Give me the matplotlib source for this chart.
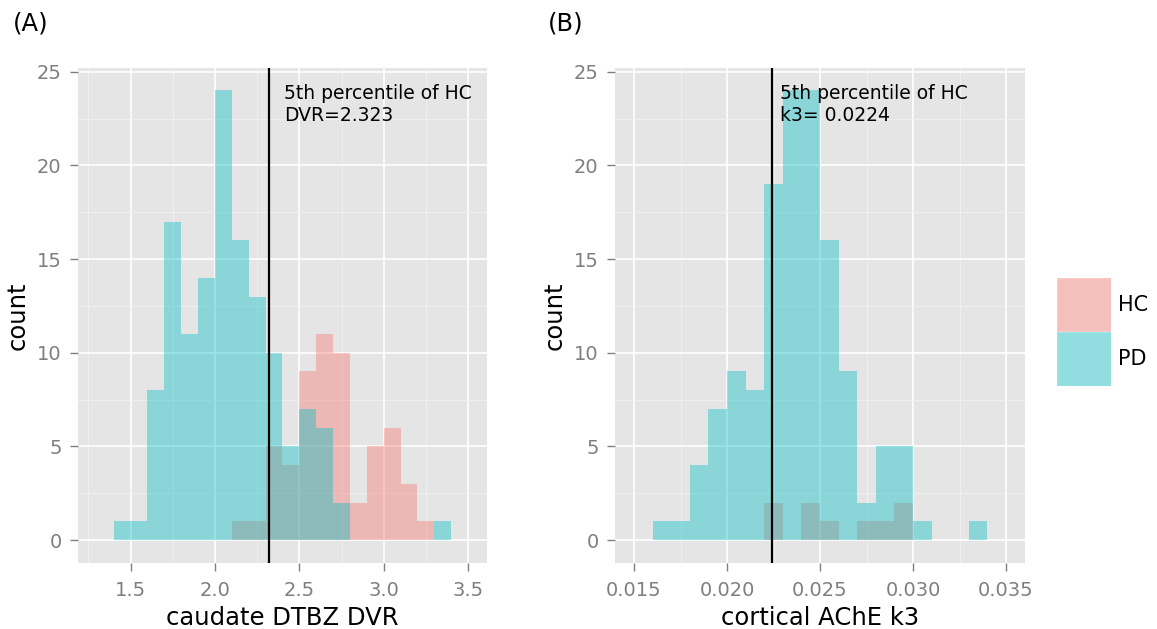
import numpy as np
import matplotlib
matplotlib.use("Agg")
import matplotlib.pyplot as plt
from matplotlib.patches import Rectangle

plt.rcParams['font.family'] = ['DejaVu Sans']

# Panel A: caudate DTBZ DVR histogram, bins of 0.1 starting at 1.4
dvr_start = 1.4
dvr_width = 0.1
dvr_hc = [0, 0, 0, 0, 0, 0, 0, 1, 1, 5, 4, 9, 11, 10, 2, 5, 6, 3, 1, 0]
dvr_pd = [1, 1, 8, 17, 11, 14, 24, 16, 13, 10, 5, 7, 6, 2, 0, 0, 0, 0, 0, 1]
dvr_cut = 2.323
dvr_ticks = [1.5, 2.0, 2.5, 3.0, 3.5]
dvr_ticklabels = ['1.5', '2.0', '2.5', '3.0', '3.5']
dvr_minor = [1.25, 1.75, 2.25, 2.75, 3.25]

# Panel B: cortical AChE k3 histogram, bins of 0.001 starting at 0.016
k3_start = 0.016
k3_width = 0.001
k3_hc = [0, 0, 0, 0, 0, 0, 2, 0, 2, 1, 0, 1, 1, 2, 0, 0, 0, 0]
k3_pd = [1, 1, 4, 7, 9, 8, 19, 24, 24, 16, 9, 2, 5, 5, 1, 0, 0, 1]
k3_cut = 0.0224
k3_ticks = [0.015, 0.020, 0.025, 0.030, 0.035]
k3_ticklabels = ['0.015', '0.020', '0.025', '0.030', '0.035']
k3_minor = [0.0175, 0.0225, 0.0275, 0.0325]

count_ticks = [0, 5, 10, 15, 20, 25]
count_minor = [2.5, 7.5, 12.5, 17.5, 22.5]

groups = ['HC', 'PD']
group_colors = ['#F8766D', '#00BFC4']
fill_alpha = 0.4

W, H = 1157, 629
fig = plt.figure(figsize=(W / 100, H / 100), dpi=100)
fig.patch.set_facecolor('white')

bottom = 1 - 562.5 / H
height = 494.5 / H
axA = fig.add_axes([78.3 / W, bottom, 408.3 / W, height])
axB = fig.add_axes([615.4 / W, bottom, 409.2 / W, height])


def style_panel(ax, xlim, xticks, xticklabels, xminor, xlabel):
    ax.set_facecolor('#E5E5E5')
    for s in ax.spines.values():
        s.set_visible(False)
    ax.set_xlim(*xlim)
    ax.set_ylim(-1.2, 25.2)
    ax.set_xticks(xticks)
    ax.set_xticklabels(xticklabels)
    ax.set_xticks(xminor, minor=True)
    ax.set_yticks(count_ticks)
    ax.set_yticklabels([str(v) for v in count_ticks])
    ax.set_yticks(count_minor, minor=True)
    ax.grid(which='major', color='white', linewidth=1.2)
    ax.grid(which='minor', color='#F2F2F2', linewidth=0.6)
    ax.set_axisbelow(True)
    ax.tick_params(which='major', length=6, width=1.0, color='#7F7F7F',
                   labelcolor='#7F7F7F', labelsize=14)
    ax.tick_params(axis='x', which='major', pad=7)
    ax.tick_params(axis='y', which='major', pad=6)
    ax.tick_params(which='minor', length=0)
    ax.set_xlabel(xlabel, fontsize=17.5, color='black', labelpad=4.5)
    ax.set_ylabel('count', fontsize=17.5, color='black', labelpad=5)


def draw_hist(ax, start, width, hc, pd_counts):
    edges_hc = start + width * np.arange(len(hc))
    edges_pd = start + width * np.arange(len(pd_counts))
    ax.bar(edges_hc, hc, width=width, align='edge', color=group_colors[0],
           alpha=fill_alpha, linewidth=0)
    ax.bar(edges_pd, pd_counts, width=width, align='edge', color=group_colors[1],
           alpha=fill_alpha, linewidth=0)


style_panel(axA, (1.19, 3.61), dvr_ticks, dvr_ticklabels, dvr_minor, 'caudate DTBZ DVR')
draw_hist(axA, dvr_start, dvr_width, dvr_hc, dvr_pd)
axA.axvline(dvr_cut, color='black', linewidth=1.6)
axA.text(2.41, 24.32, f"5th percentile of HC\nDVR={dvr_cut}", ha='left', va='top',
         fontsize=13.5, color='black')

style_panel(axB, (0.014, 0.036), k3_ticks, k3_ticklabels, k3_minor, 'cortical AChE k3')
draw_hist(axB, k3_start, k3_width, k3_hc, k3_pd)
axB.axvline(k3_cut, color='black', linewidth=1.6)
axB.text(0.02285, 24.32, f"5th percentile of HC\nk3= {k3_cut}", ha='left', va='top',
         fontsize=13.5, color='black')

# Panel tags
fig.text(12.5 / W, 1 - 12 / H, '(A)', ha='left', va='top', fontsize=17.5)
fig.text(548 / W, 1 - 12 / H, '(B)', ha='left', va='top', fontsize=17.5)

# Legend keys
axL = fig.add_axes([1056.7 / W, 1 - 386 / H, 54 / W, 107.7 / H])
axL.set_xlim(0, 1)
axL.set_ylim(0, 2)
axL.axis('off')
for i, (g, c) in enumerate(zip(groups, group_colors)):
    y0 = 1 - i
    axL.add_patch(Rectangle((0, y0), 1, 1, facecolor='#F2F2F2', edgecolor='white', linewidth=1))
    axL.add_patch(Rectangle((0, y0), 1, 1, facecolor=c, alpha=fill_alpha, linewidth=0))
    axL.text(1.14, y0 + 0.5, g, ha='left', va='center', fontsize=15, color='black', clip_on=False)

fig.savefig('out.png', dpi=100)
